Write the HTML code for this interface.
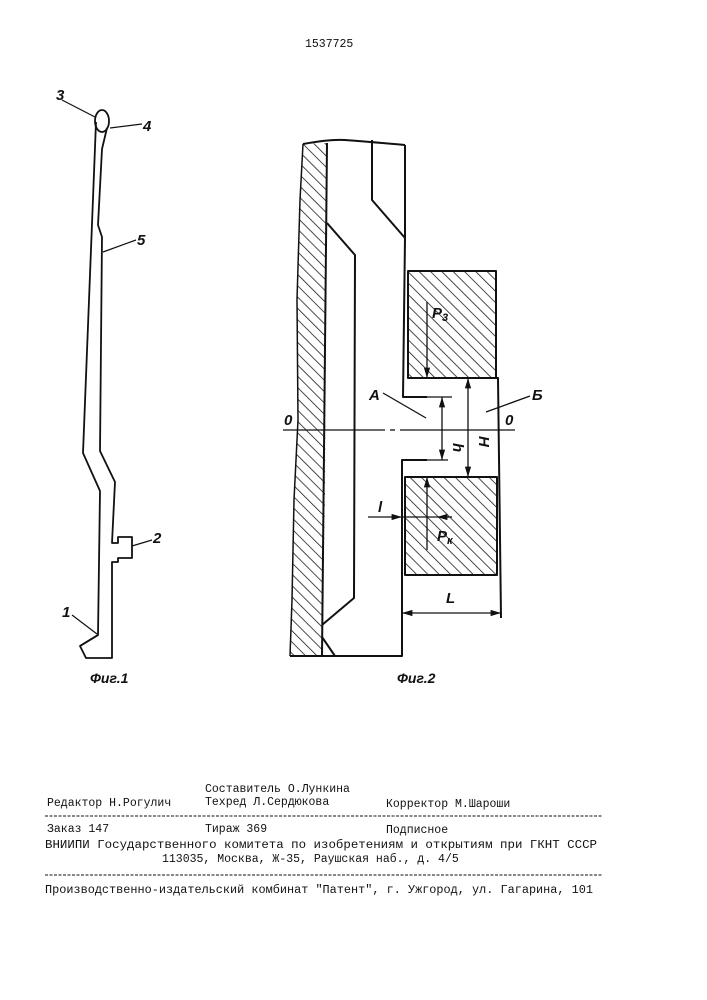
<!DOCTYPE html>
<html><head><meta charset="utf-8"><style>
html,body{margin:0;padding:0;background:#fff;}
svg{display:block;}
.m{font-family:"Liberation Mono",monospace;font-size:11.5px;fill:#111;}
.l{font-family:"Liberation Sans",sans-serif;font-style:italic;font-weight:bold;font-size:15px;fill:#111;}
</style></head><body>
<svg width="707" height="1000" viewBox="0 0 707 1000" xmlns="http://www.w3.org/2000/svg">
<defs>
<pattern id="h" patternUnits="userSpaceOnUse" width="8" height="8" patternTransform="rotate(-45)">
<line x1="0" y1="0" x2="0" y2="8" stroke="#111" stroke-width="1.5"/>
</pattern>
<marker id="a" viewBox="0 0 10 10" refX="10" refY="5" markerWidth="8" markerHeight="8" orient="auto-start-reverse"><path d="M0,2 L10,5 L0,8 z" fill="#111"/></marker>
</defs>
<text class="m" x="305" y="47">1537725</text>

<!-- Fig 1 -->
<g fill="none" stroke="#111" stroke-width="1.8" stroke-linejoin="round">
<path d="M96,122 L83,453 L100,491 L98,635 L80,646 L86,658 L112,658 L112,562 L118,562 L118,558 L132,558 L132,537 L118,537 L118,543 L112,543 L115,482 L100,451 L102,237 L98,225 L102,149 L107,128"/>
<ellipse cx="102" cy="121" rx="7" ry="11"/>
<path d="M80,646 L98,635" />
<line x1="62" y1="100" x2="95" y2="117" stroke-width="1.2"/>
<line x1="110" y1="128" x2="142" y2="124" stroke-width="1.2"/>
<line x1="103" y1="252" x2="136" y2="240" stroke-width="1.2"/>
<line x1="132" y1="546" x2="152" y2="540" stroke-width="1.2"/>
<line x1="72" y1="615" x2="97" y2="634" stroke-width="1.2"/>
</g>
<text class="l" x="56" y="100">3</text>
<text class="l" x="143" y="131">4</text>
<text class="l" x="137" y="245">5</text>
<text class="l" x="153" y="543">2</text>
<text class="l" x="62" y="617">1</text>
<text class="l" x="90" y="683" style="font-size:14px">Фиг.1</text>

<!-- Fig 2 -->
<path d="M303,144 L300,200 L297,300 L298,420 L294,500 L292,600 L290,656 L322,656 L325,500 L327,143 Z" fill="url(#h)"/>
<path d="M303,144 L300,200 L297,300 L298,420 L294,500 L292,600 L290,656" fill="none" stroke="#111" stroke-width="1.5"/>
<rect x="408" y="271" width="88" height="107" fill="url(#h)"/>
<rect x="405" y="477" width="92" height="98" fill="url(#h)"/>
<g fill="none" stroke="#111" stroke-width="2" stroke-linejoin="round">
<path d="M303,144 Q330,139 345,140 T405,145"/>
<line x1="327" y1="143" x2="322" y2="656"/>
<path d="M327,223 L355,255 L354,598 L322,625"/>
<path d="M322,637 L335,656"/>
<path d="M372,140 L372,200 L405,238"/>
<path d="M405,145 L405,238 L403,397 L427,397"/>
<path d="M290,656 L402,656 L402,460 L427,460"/>
<rect x="408" y="271" width="88" height="107"/>
<rect x="405" y="477" width="92" height="98"/>
<path d="M427,378 L498,378 L501,618"/>
</g>
<g stroke="#111" stroke-width="1.3" fill="none">
<line x1="427" y1="397" x2="452" y2="397"/>
<line x1="427" y1="460" x2="448" y2="460"/>
<line x1="442" y1="397" x2="442" y2="460" marker-start="url(#a)" marker-end="url(#a)"/>
<line x1="468" y1="378" x2="468" y2="477" marker-start="url(#a)" marker-end="url(#a)"/>
<line x1="427" y1="302" x2="427" y2="378" marker-end="url(#a)"/>
<line x1="427" y1="550" x2="427" y2="477" marker-end="url(#a)"/>
<line x1="402" y1="613" x2="501" y2="613" marker-start="url(#a)" marker-end="url(#a)"/>
<line x1="368" y1="517" x2="402" y2="517" marker-end="url(#a)"/>
<line x1="452" y1="517" x2="437" y2="517" marker-end="url(#a)"/>
<line x1="402" y1="517" x2="437" y2="517"/>
<line x1="283" y1="430" x2="385" y2="430"/>
<line x1="390" y1="430" x2="395" y2="430"/>
<line x1="400" y1="430" x2="515" y2="430"/>
<line x1="383" y1="393" x2="426" y2="418"/>
<line x1="486" y1="412" x2="530" y2="396"/>
</g>
<text class="l" x="284" y="425">0</text>
<text class="l" x="505" y="425">0</text>
<text class="l" x="369" y="400">A</text>
<text class="l" x="532" y="400">Б</text>
<text class="l" x="432" y="318">P<tspan font-size="11" dy="3">3</tspan></text>
<text class="l" x="437" y="541">P<tspan font-size="11" dy="3">к</tspan></text>
<text class="l" x="378" y="512">l</text>
<text class="l" x="446" y="603">L</text>
<text class="l" transform="translate(453,443) rotate(90)">h</text>
<text class="l" transform="translate(479,436) rotate(90)">H</text>
<text class="l" x="397" y="683" style="font-size:14px">Фиг.2</text>

<!-- Footer -->
<text class="m" x="205" y="792">Составитель О.Лункина</text>
<text class="m" x="47" y="806">Редактор Н.Рогулич</text>
<text class="m" x="205" y="805">Техред Л.Сердюкова</text>
<text class="m" x="386" y="807">Корректор М.Шароши</text>
<line x1="45" y1="816" x2="602" y2="816" stroke="#111" stroke-width="1" stroke-dasharray="3,1.5"/>
<text class="m" x="47" y="832">Заказ 147</text>
<text class="m" x="205" y="832">Тираж 369</text>
<text class="m" x="386" y="833">Подписное</text>
<text class="m" x="45" y="848" textLength="552" lengthAdjust="spacingAndGlyphs">ВНИИПИ Государственного комитета по изобретениям и открытиям при ГКНТ СССР</text>
<text class="m" x="162" y="862">113035, Москва, Ж-35, Раушская наб., д. 4/5</text>
<line x1="45" y1="875" x2="602" y2="875" stroke="#111" stroke-width="1" stroke-dasharray="3,1.5"/>
<text class="m" x="45" y="893" textLength="548" lengthAdjust="spacingAndGlyphs">Производственно-издательский комбинат "Патент", г. Ужгород, ул. Гагарина, 101</text>
</svg>
</body></html>
